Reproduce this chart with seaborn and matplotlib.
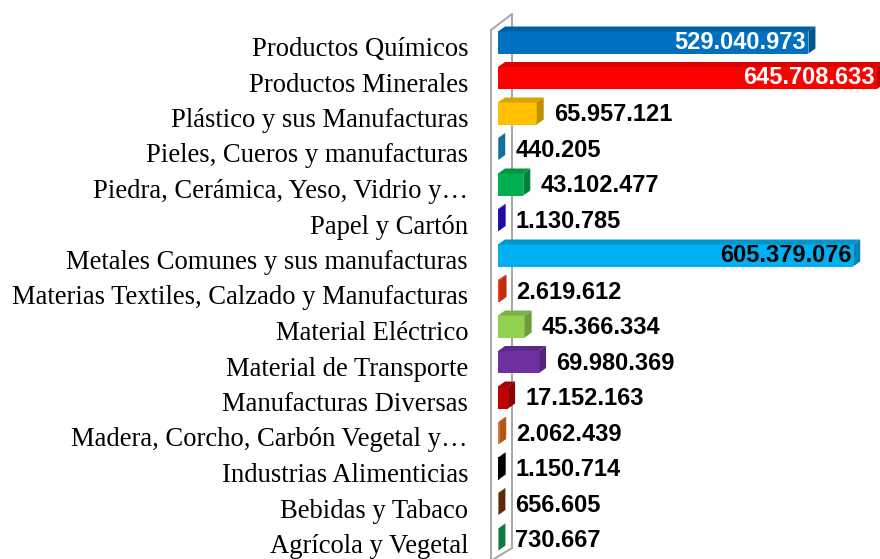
import numpy as np
import pandas as pd
import seaborn as sns
import matplotlib
matplotlib.use("Agg")
import matplotlib.pyplot as plt
import matplotlib.colors as mcolors
from matplotlib.patches import Polygon
from matplotlib.lines import Line2D
from matplotlib.transforms import ScaledTranslation

# datos
categorias = [
    "Productos Químicos",
    "Productos Minerales",
    "Plástico y sus Manufacturas",
    "Pieles, Cueros y manufacturas",
    "Piedra, Cerámica, Yeso, Vidrio y…",
    "Papel y Cartón",
    "Metales Comunes y sus manufacturas",
    "Materias Textiles, Calzado y Manufacturas",
    "Material Eléctrico",
    "Material de Transporte",
    "Manufacturas Diversas",
    "Madera, Corcho, Carbón Vegetal y…",
    "Industrias Alimenticias",
    "Bebidas y Tabaco",
    "Agrícola y Vegetal",
]
valores = [529040973, 645708633, 65957121, 440205, 43102477, 1130785, 605379076,
           2619612, 45366334, 69980369, 17152163, 2062439, 1150714, 656605, 730667]
colores = ["#0070C0", "#FF0000", "#FFC000", "#1B95D0", "#00B050", "#2814D5", "#00B0F0",
           "#FF4015", "#92D050", "#7030A0", "#C00000", "#EB7523", "#000000", "#7B380B", "#17A255"]

df = pd.DataFrame({"categoria": categorias, "valor": valores})

sns.set_theme(style="white")
plt.rcParams['font.family'] = ['Liberation Serif', 'DejaVu Serif']

W, H = 880, 559
fig = plt.figure(figsize=(W / 100, H / 100), dpi=100)
ax_top, ax_bot = 24.75, 557.25
ax = fig.add_axes([498 / W, 1 - ax_bot / H, 382 / W, (ax_bot - ax_top) / H])

sns.barplot(data=df, x="valor", y="categoria", hue="categoria", order=categorias,
            hue_order=categorias, palette=colores, saturation=1, width=0.62,
            linewidth=0, edgecolor="none", legend=False, ax=ax, zorder=3)

xmax = 651e6
ax.set_xlim(0, xmax)
ax.set_ylim(len(categorias) - 0.5, -0.5)

# profundidad 3D en unidades de datos
dx = 7 * xmax / 382
dy = -5 * len(categorias) / (ax_bot - ax_top)

for c in ax.containers:
    p = c.patches[0]
    v = c.datavalues[0]
    x0, y0, w, h = p.get_x(), p.get_y(), p.get_width(), p.get_height()
    rgb = np.array(mcolors.to_rgb(p.get_facecolor()))
    top = Polygon([(x0, y0), (x0 + w, y0), (x0 + w + dx, y0 + dy), (x0 + dx, y0 + dy)],
                  closed=True, facecolor=rgb * 0.85, edgecolor="none", zorder=3, clip_on=False)
    side = Polygon([(x0 + w, y0), (x0 + w, y0 + h), (x0 + w + dx, y0 + h + dy), (x0 + w + dx, y0 + dy)],
                   closed=True, facecolor=rgb * 0.75, edgecolor="none", zorder=3, clip_on=False)
    ax.add_patch(top)
    ax.add_patch(side)

    texto = f"{int(v):,}".replace(",", ".")
    yc = y0 + h / 2
    if w > 0.5 * xmax:
        lum = 0.2126 * rgb[0] ** 2.2 + 0.7152 * rgb[1] ** 2.2 + 0.0722 * rgb[2] ** 2.2
        col = "white" if lum < 0.3 else "black"
        ax.annotate(texto, (x0 + w, yc), xytext=(-1.5, 0), textcoords="offset points",
                    ha="right", va="center", fontsize=17, fontweight="bold", color=col,
                    family=["Liberation Sans", "DejaVu Sans"], zorder=5)
    else:
        ax.annotate(texto, (x0 + w, yc), xytext=(12.2, -1), textcoords="offset points",
                    ha="left", va="center", fontsize=17, fontweight="bold", color="black",
                    family=["Liberation Sans", "DejaVu Sans"], zorder=5, annotation_clip=False)

# pared del grafico
def fp(x, y):
    return (x / W, 1 - y / H)

gris = "#A6A6A6"
pared = [
    [(512, 14), (512, 548)],
    [(491, 30), (491, 559)],
    [(491, 30), (512, 14)],
    [(512, 548), (494, 559)],
]
for k, seg in enumerate(pared):
    (xa, ya), (xb, yb) = fp(*seg[0]), fp(*seg[1])
    ax.add_line(Line2D([xa, xb], [ya, yb], transform=fig.transFigure, color=gris,
                       lw=1.4, zorder=0 if k == 0 else 4, clip_on=False))

ax.set_xlabel("")
ax.set_ylabel("")
ax.set_xticks([])
ax.tick_params(axis="y", length=0, pad=21.6, labelsize=19.2, labelcolor="black")
sns.despine(ax=ax, left=True, bottom=True)
for lab in ax.get_yticklabels():
    lab.set_transform(lab.get_transform() + ScaledTranslation(0, -4 / 100, fig.dpi_scale_trans))

fig.savefig("out.png", dpi=100)
